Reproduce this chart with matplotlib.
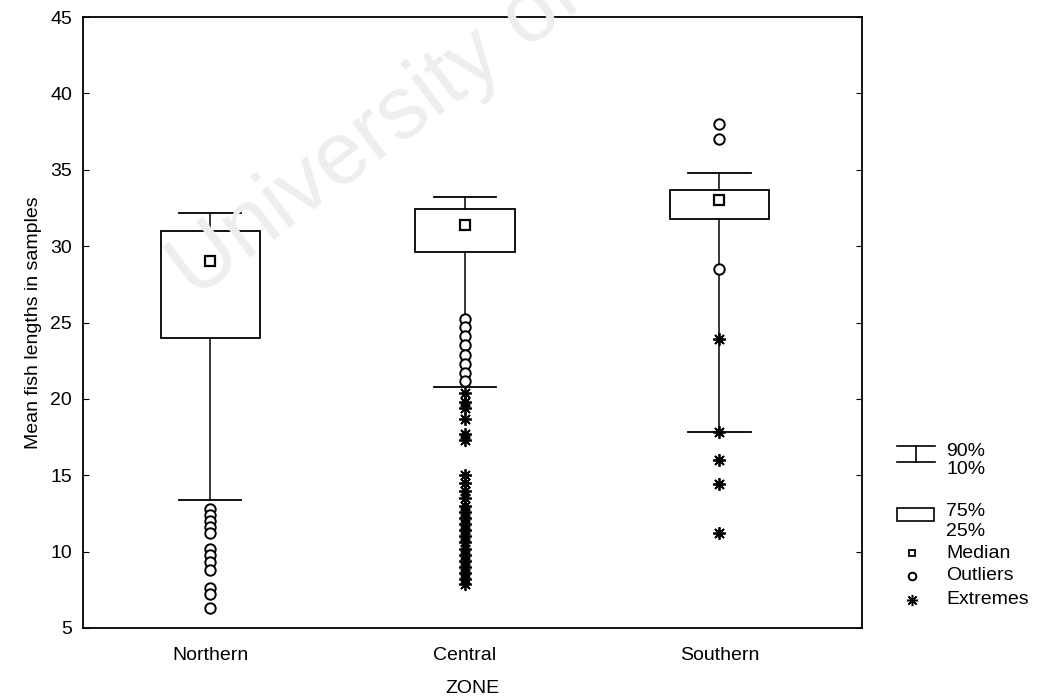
import numpy as np
import matplotlib
matplotlib.use("Agg")
import matplotlib.pyplot as plt
from matplotlib.patches import Rectangle

plt.rcParams['font.family'] = ['Liberation Sans', 'DejaVu Sans']

# data
zones = ["Northern", "Central", "Southern"]
p10 = [13.4, 20.8, 17.8]
p25 = [24.0, 29.6, 31.8]
medians = [29.0, 31.4, 33.0]
p75 = [31.0, 32.4, 33.7]
p90 = [32.2, 33.2, 34.8]

outliers = [
    [12.8, 12.4, 12.0, 11.6, 11.2, 10.2, 9.8, 9.3, 8.8, 7.6, 7.2, 6.3],
    [25.2, 24.7, 24.1, 23.5, 22.9, 22.3, 21.7, 21.2],
    [38.0, 37.0, 28.5],
]
extremes = [
    [],
    [20.4, 19.8, 19.4, 18.7, 17.7, 17.3, 15.0, 14.5, 14.0, 13.5, 13.0, 12.6,
     12.2, 11.8, 11.4, 11.0, 10.6, 10.2, 9.8, 9.4, 9.0, 8.6, 8.2, 7.9],
    [23.9, 17.8, 16.0, 14.4, 11.2],
]

box_w = 0.39
cap_w = 0.245

fig = plt.figure(figsize=(10.39, 7.0), dpi=100)

# faint watermark from the scan
fig.text(195 / 1039, 1 - 300 / 700, "University of Cape Town", fontsize=64,
         color="#eeeeee", rotation=37, rotation_mode="anchor",
         ha="left", va="baseline", zorder=0)

ax = fig.add_axes([83 / 1039, 1 - 628 / 700, (862 - 83) / 1039, (628 - 17) / 700])
ax.patch.set_alpha(0)

x = np.arange(1, len(zones) + 1)
for i, xi in enumerate(x):
    # box
    ax.add_patch(Rectangle((xi - box_w / 2, p25[i]), box_w, p75[i] - p25[i],
                           facecolor="none", edgecolor="black", lw=1.3, zorder=2))
    # whiskers and caps
    ax.plot([xi, xi], [p75[i], p90[i]], color="black", lw=1.1, zorder=2)
    ax.plot([xi, xi], [p10[i], p25[i]], color="black", lw=1.1, zorder=2)
    ax.plot([xi - cap_w / 2, xi + cap_w / 2], [p90[i], p90[i]], color="black", lw=1.3, zorder=2)
    ax.plot([xi - cap_w / 2, xi + cap_w / 2], [p10[i], p10[i]], color="black", lw=1.3, zorder=2)
    # median
    ax.plot(xi, medians[i], marker="s", ms=7, mfc="white", mec="black", mew=1.6, zorder=3)
    # outliers / extremes
    ax.plot([xi] * len(outliers[i]), outliers[i], ls="none", marker="o", ms=7.5,
            mfc="white", mec="black", mew=1.4, zorder=3)
    if extremes[i]:
        ax.plot([xi] * len(extremes[i]), extremes[i], ls="none", marker=(8, 2, 0),
                ms=9, mec="black", mew=1.3, zorder=3)

ax.set_xlim(0.5, 3.56)
ax.set_ylim(5, 45)
ax.set_yticks(np.arange(5, 46, 5))
ax.set_xticks(x)
ax.set_xticklabels(zones)
ax.tick_params(axis="y", direction="in", length=4, labelsize=14, right=True, pad=8)
ax.tick_params(axis="x", length=0, labelsize=14, pad=14)
for s in ax.spines.values():
    s.set_linewidth(1.3)
ax.set_ylabel("Mean fish lengths in samples", fontsize=14, labelpad=6)
ax.set_xlabel("ZONE", fontsize=14, labelpad=11)

# hand-made legend to the right of the plot (pixel coordinates)
lg = fig.add_axes([890 / 1039, 1 - 620 / 700, 149 / 1039, 190 / 700])
lg.set_xlim(890, 1039)
lg.set_ylim(620, 430)
lg.axis("off")
lg.plot([897, 935], [446, 446], color="black", lw=1.2)
lg.plot([897, 935], [462, 462], color="black", lw=1.2)
lg.plot([916, 916], [446, 462], color="black", lw=1.2)
lg.add_patch(Rectangle((897, 508), 37, 13, facecolor="none", edgecolor="black", lw=1.2))
lg.plot(912, 553, marker="s", ms=5, mfc="white", mec="black", mew=1.3)
lg.plot(912, 576, marker="o", ms=5.5, mfc="white", mec="black", mew=1.4)
lg.plot(912, 600, marker=(8, 2, 0), ms=8, mec="black", mew=1.1)
for ty, txt in [(451, "90%"), (470, "10%"), (511, "75%"), (531, "25%"),
                (553, "Median"), (576, "Outliers"), (600, "Extremes")]:
    lg.text(946, ty, txt, fontsize=14, va="center", ha="left")

fig.savefig("out.png", dpi=100)
